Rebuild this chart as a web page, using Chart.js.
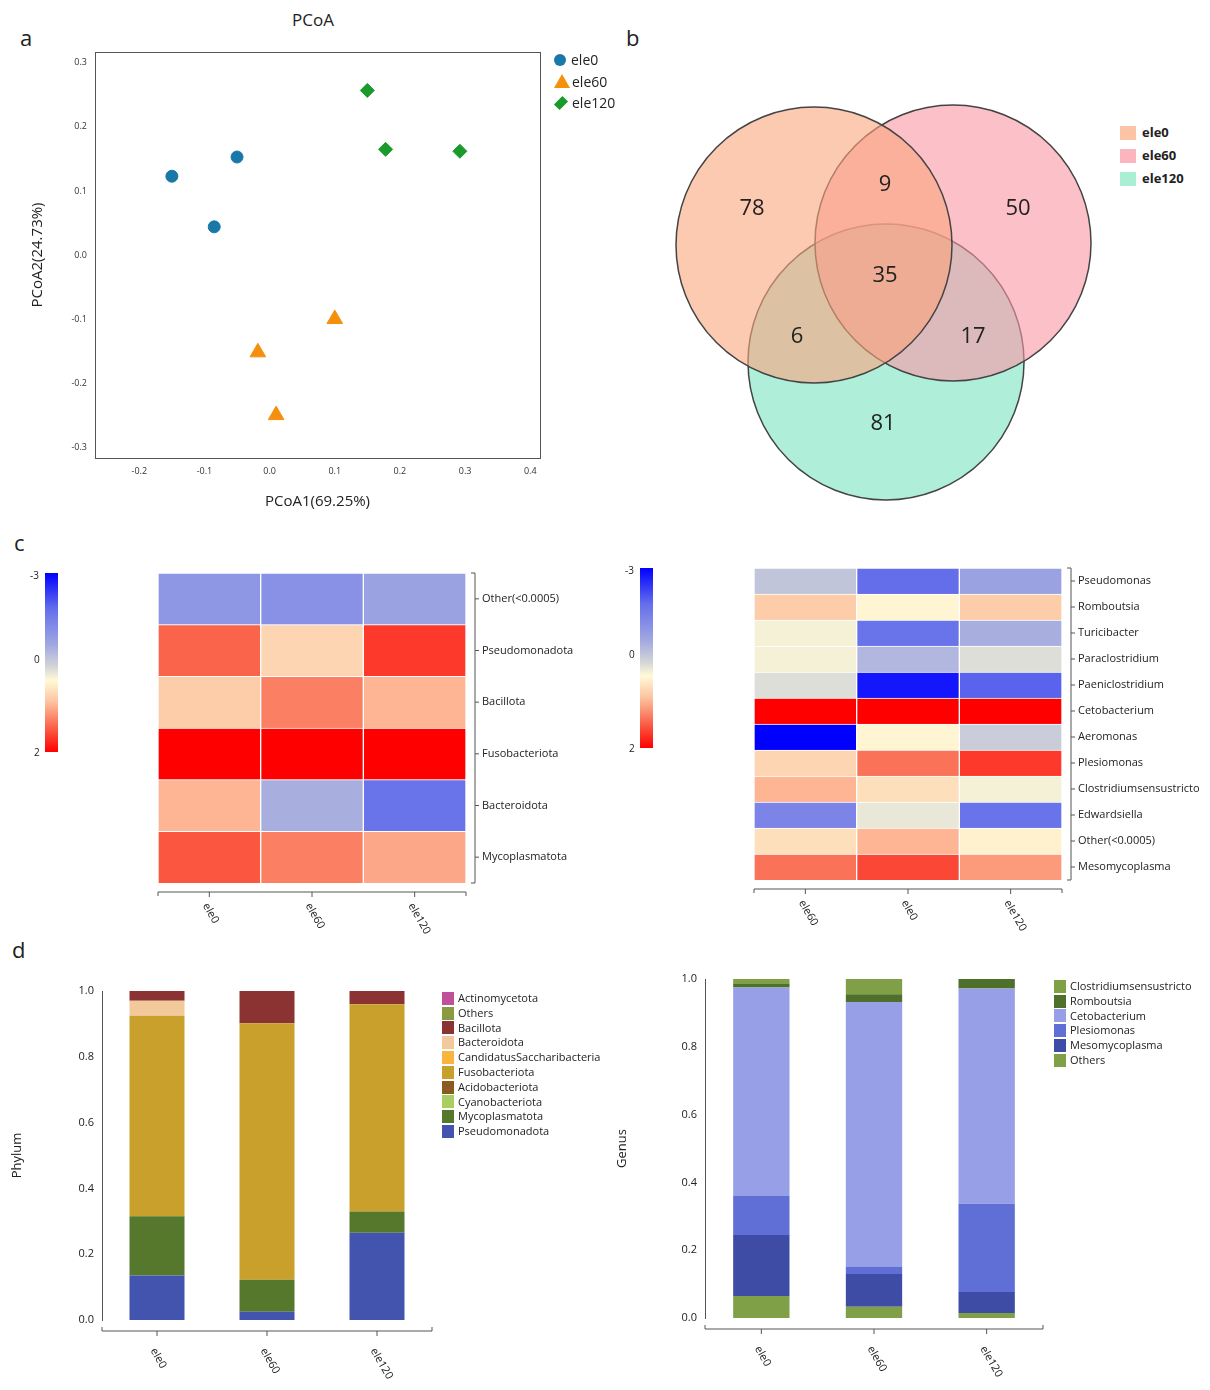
<!DOCTYPE html>
<html><head><meta charset="utf-8">
<script src="https://cdn.jsdelivr.net/npm/chart.js@4.4.1/dist/chart.umd.min.js"></script>
<style>
body{margin:0;width:1210px;height:1390px;position:relative;background:#fff;font-family:"Open Sans","DejaVu Sans",sans-serif;color:#222;overflow:hidden}
.c{position:absolute}
.lab{position:absolute;font-size:22px}
.leg{position:absolute;font-size:11px;line-height:14.8px}
.leg div{display:flex;align-items:center}
.leg span{display:inline-block;width:12px;height:13px;margin-right:4px}
.cb{position:absolute;width:13px}
.cbt{position:absolute;font-size:10px}
</style></head><body>
<div class="lab" style="left:20px;top:22px">a</div>
<div class="lab" style="left:626px;top:22px">b</div>
<div class="lab" style="left:14px;top:527px">c</div>
<div class="lab" style="left:12px;top:934px">d</div>
<div style="position:absolute;left:292px;top:8px;font-size:17px">PCoA</div>
<div class="c" style="left:0;top:0;width:620px;height:520px"><canvas id="pcoa"></canvas></div>
<div class="leg" style="left:554px;top:49px;font-size:14px;line-height:21.5px" id="pleg"></div>
<div class="c" style="left:640px;top:90px;width:480px;height:430px"><canvas id="venn"></canvas></div>
<div class="leg" style="left:1120px;top:121px;font-size:13px;line-height:23px;font-weight:bold" id="vleg"></div>
<div class="c" style="left:0;top:560px;width:610px;height:380px"><canvas id="h1"></canvas></div>
<div class="c" style="left:600px;top:555px;width:610px;height:385px"><canvas id="h2"></canvas></div>
<div class="cb" style="left:45px;top:573px;height:179px" id="cb1"></div>
<div class="cbt" style="left:30px;top:568px">-3</div><div class="cbt" style="left:34px;top:652px">0</div><div class="cbt" style="left:34px;top:745px">2</div>
<div class="cb" style="left:640px;top:568px;height:180px" id="cb2"></div>
<div class="cbt" style="left:625px;top:563px">-3</div><div class="cbt" style="left:629px;top:647px">0</div><div class="cbt" style="left:629px;top:741px">2</div>
<div class="c" style="left:0;top:960px;width:610px;height:430px"><canvas id="b1"></canvas></div>
<div class="c" style="left:610px;top:960px;width:600px;height:430px"><canvas id="b2"></canvas></div>
<div class="leg" style="left:442px;top:991px" id="l1"></div>
<div class="leg" style="left:1054px;top:979px" id="l2"></div>
<script>
// ---------- DATA ----------
const groups = ["ele0","ele60","ele120"];
const pcoaEle0 = [[-0.15,0.123],[-0.05,0.153],[-0.085,0.044]];
const pcoaEle60 = [[0.1,-0.1],[-0.018,-0.152],[0.01,-0.25]];
const pcoaEle120 = [[0.15,0.257],[0.178,0.165],[0.292,0.162]];
const vennSets = ["ele0","ele60","ele120"];
const vennCounts = [78, 9, 50, 35, 6, 17, 81];
const phylumRows = ["Other(<0.0005)","Pseudomonadota","Bacillota","Fusobacteriota","Bacteroidota","Mycoplasmatota"];
const phylumHeatCols = ["ele0","ele60","ele120"];
const phylumHeat = [[-1.3,-1.4,-1.1],[1.3,0.4,1.6],[0.5,1.1,0.7],[2,2,2],[0.7,-0.9,-1.9],[1.4,1.1,0.8]];
const genusRows = ["Pseudomonas","Romboutsia","Turicibacter","Paraclostridium","Paeniclostridium","Cetobacterium","Aeromonas","Plesiomonas","Clostridiumsensustricto","Edwardsiella","Other(<0.0005)","Mesomycoplasma"];
const genusHeatCols = ["ele60","ele0","ele120"];
const genusHeat = [[-0.6,-2.0,-1.1],[0.5,0.05,0.5],[-0.1,-1.9,-0.9],[-0.1,-0.8,-0.3],[-0.3,-2.8,-2.1],[2,2,2],[-3,0.05,-0.5],[0.4,1.2,1.6],[0.7,0.3,-0.1],[-1.6,-0.2,-1.9],[0.3,0.7,0.1],[1.2,1.5,0.9]];
const phylumNames = ["Pseudomonadota","Mycoplasmatota","Cyanobacteriota","Acidobacteriota","Fusobacteriota","CandidatusSaccharibacteria","Bacteroidota","Bacillota","Others","Actinomycetota"];
const phylumVals = [[0.135,0.025,0.265],[0.18,0.097,0.065],[0,0,0],[0,0,0],[0.61,0.78,0.63],[0,0,0],[0.045,0,0],[0.03,0.098,0.04],[0,0,0],[0,0,0]];
const genusNames = ["Others","Mesomycoplasma","Plesiomonas","Cetobacterium","Romboutsia","Clostridiumsensustricto"];
const genusVals = [[0.065,0.033,0.015],[0.18,0.097,0.062],[0.115,0.022,0.26],[0.615,0.78,0.635],[0.01,0.023,0.028],[0.015,0.045,0]];
const barTicks = [0,0.2,0.4,0.6,0.8,1.0];
// ---------- STYLE ----------
const phylumColors = {Actinomycetota:"#c0509a",Others:"#8a9a40",Bacillota:"#8b3333",Bacteroidota:"#f2c99a",CandidatusSaccharibacteria:"#f7b540",Fusobacteriota:"#c9a02c",Acidobacteriota:"#8a5a20",Cyanobacteriota:"#a8cf60",Mycoplasmatota:"#56782c",Pseudomonadota:"#4354ae"};
const genusColors = {Clostridiumsensustricto:"#7fa046",Romboutsia:"#4f702a",Cetobacterium:"#97a0e6",Plesiomonas:"#5f6fd6",Mesomycoplasma:"#3f4ca6",Others:"#7fa046"};
const stops=[[-3,[0,0,255]],[-2,[100,110,235]],[-1,[160,168,225]],[-0.4,[210,212,215]],[0,[255,250,215]],[0.6,[253,195,160]],[1.3,[250,100,75]],[2,[255,0,0]]];
function cmap(v){for(let i=1;i<stops.length;i++){if(v<=stops[i][0]){const a=stops[i-1],b=stops[i];const t=(v-a[0])/(b[0]-a[0]);const c=a[1].map((x,k)=>Math.round(x+(b[1][k]-x)*t));return `rgb(${c})`;}}return "rgb(255,0,0)";}
const grad="linear-gradient(to bottom,"+stops.map(s=>`rgb(${s[1]}) ${((s[0]+3)/5*100).toFixed(1)}%`).join(",")+")";
document.getElementById('cb1').style.background=grad;document.getElementById('cb2').style.background=grad;
Chart.defaults.font.family='"Open Sans","DejaVu Sans",sans-serif';
Chart.defaults.animation=false;
const noLeg={legend:{display:false},tooltip:{enabled:false}};

// ---------- PCoA ----------
const toPts=a=>a.map(p=>({x:p[0],y:p[1]}));
new Chart(document.getElementById('pcoa'),{type:'scatter',data:{datasets:[
 {label:'ele0',data:toPts(pcoaEle0),pointStyle:'circle',radius:6,backgroundColor:'#1a78a8',borderColor:'#1a78a8'},
 {label:'ele60',data:toPts(pcoaEle60),pointStyle:'triangle',radius:9,backgroundColor:'#f5900f',borderColor:'#f5900f'},
 {label:'ele120',data:toPts(pcoaEle120),pointStyle:'rectRot',radius:7,backgroundColor:'#1a9a2a',borderColor:'#1a9a2a'}]},
 options:{responsive:true,maintainAspectRatio:false,layout:{padding:{top:52,right:80,left:25,bottom:5}},plugins:noLeg,
 scales:{x:{min:-0.268,max:0.415,afterFit:s=>{s.height=57},afterBuildTicks:s=>{s.ticks=[-0.2,-0.1,0,0.1,0.2,0.3,0.4].map(v=>({value:v}))},grid:{display:false,drawTicks:true,tickLength:5},border:{color:'#333'},ticks:{font:{size:9},color:'#333',callback:v=>v.toFixed(1)},title:{display:true,text:'PCoA1(69.25%)',font:{size:15},color:'#222'}},
 y:{min:-0.317,max:0.317,afterFit:s=>{s.width=70},afterBuildTicks:s=>{s.ticks=[-0.3,-0.2,-0.1,0,0.1,0.2,0.3].map(v=>({value:v}))},grid:{display:false,tickLength:5},border:{color:'#333'},ticks:{font:{size:9},color:'#333',callback:v=>v.toFixed(1)},title:{display:true,text:'PCoA2(24.73%)',font:{size:15},color:'#222'}}}},
 plugins:[{id:'frame',afterDraw(c){const a=c.chartArea,x=c.ctx;x.save();x.strokeStyle='#555';x.lineWidth=1;x.strokeRect(a.left+0.5,a.top+0.5,a.width,a.height);x.restore();}}]});
document.getElementById('pleg').innerHTML=
 '<div><span style="width:12px;height:12px;border-radius:50%;background:#1a78a8;margin-right:5px"></span>ele0</div>'+
 '<div><span style="width:0;height:0;border-left:8px solid transparent;border-right:8px solid transparent;border-bottom:14px solid #f5900f;background:none;margin-right:2px"></span>ele60</div>'+
 '<div><span style="width:10px;height:10px;transform:rotate(45deg) scale(0.8,1.2);background:#1a9a2a;margin:0 6px 0 2px"></span>ele120</div>';

// ---------- Venn ----------
const vc=[[174,155],[313,153],[246,272]];
const vcol=['rgba(250,165,125,0.6)','rgba(250,150,165,0.6)','rgba(110,225,185,0.55)'];
const lblPos=[[112,119],[245,95],[378,119],[245,186],[157,247],[333,247],[243,334]];
new Chart(document.getElementById('venn'),{type:'bubble',data:{datasets:vennSets.map((s,i)=>({label:s,data:[{x:vc[i][0],y:vc[i][1],r:138}],backgroundColor:vcol[i],borderColor:'#444',borderWidth:1.5,hoverRadius:0,clip:false}))},
 options:{responsive:true,maintainAspectRatio:false,plugins:noLeg,layout:{padding:0,autoPadding:false},scales:{x:{display:false,min:0,max:480},y:{display:false,min:0,max:430,reverse:true}}},
 plugins:[{id:'vl',afterDraw(c){const x=c.ctx;x.save();x.font='22px "Open Sans",sans-serif';x.fillStyle='#222';x.textAlign='center';x.textBaseline='middle';vennCounts.forEach((n,i)=>x.fillText(n,c.scales.x.getPixelForValue(lblPos[i][0]),c.scales.y.getPixelForValue(lblPos[i][1])));x.restore();}}]});
document.getElementById('vleg').innerHTML=vennSets.map((s,i)=>`<div><span style="width:16px;height:14px;background:${['#fbc4a4','#fbb6bd','#aaeed4'][i]};margin-right:6px"></span>${s}</div>`).join('');

// ---------- Heatmaps ----------
function heat(id,rows,cols,vals,pad){
 const n=rows.length;
 const ds=rows.map((r,i)=>({label:r,data:cols.map(()=>1),backgroundColor:vals[i].map(cmap),borderColor:'#fff',borderWidth:1,barPercentage:1,categoryPercentage:1})).reverse();
 new Chart(document.getElementById(id),{type:'bar',data:{labels:cols,datasets:ds},options:{responsive:true,maintainAspectRatio:false,layout:{padding:pad},plugins:noLeg,
  scales:{x:{display:false,stacked:true},y:{display:false,stacked:true,min:0,max:n}}},
  plugins:[{id:'ax',afterDraw(c){const a=c.chartArea,x=c.ctx,ys=c.scales.y,xs=c.scales.x;x.save();x.strokeStyle='#555';x.fillStyle='#222';x.lineWidth=1;
   const rx=a.right+9;x.beginPath();x.moveTo(rx,a.top);x.lineTo(rx,a.bottom);x.moveTo(rx-4,a.top);x.lineTo(rx,a.top);x.moveTo(rx-4,a.bottom);x.lineTo(rx,a.bottom);
   rows.forEach((r,i)=>{const y=ys.getPixelForValue(n-i-0.5);x.moveTo(rx,y);x.lineTo(rx+4,y);});
   const by=a.bottom+9;x.moveTo(a.left,by);x.lineTo(a.right,by);x.moveTo(a.left,by);x.lineTo(a.left,by+4);x.moveTo(a.right,by);x.lineTo(a.right,by+4);
   cols.forEach((cl,i)=>{const px=xs.getPixelForValue(i);x.moveTo(px,by);x.lineTo(px,by+5);});x.stroke();
   x.font='11px "Open Sans",sans-serif';x.textBaseline='middle';x.textAlign='left';
   rows.forEach((r,i)=>x.fillText(r,rx+7,ys.getPixelForValue(n-i-0.5)));
   cols.forEach((cl,i)=>{const px=xs.getPixelForValue(i);x.save();x.translate(px-4,by+12);x.rotate(Math.PI/3);x.fillText(cl,0,0);x.restore();});
   x.restore();}}]});
}
heat('h1',phylumRows,phylumHeatCols,phylumHeat,{left:158,top:13,right:144,bottom:57});
heat('h2',genusRows,genusHeatCols,genusHeat,{left:154,top:13,right:148,bottom:60});

// ---------- Stacked bars ----------
function bars(id,names,vals,colors,title,pad,yw){
 new Chart(document.getElementById(id),{type:'bar',data:{labels:groups,datasets:names.map((nm,i)=>({label:nm,data:vals[i],backgroundColor:colors[nm],barPercentage:0.5,categoryPercentage:1}))},
  options:{responsive:true,maintainAspectRatio:false,layout:{padding:pad},plugins:noLeg,
  scales:{x:{stacked:true,display:false},y:{stacked:true,min:0,max:1,afterFit:s=>{s.width=yw},afterBuildTicks:s=>{s.ticks=barTicks.map(v=>({value:v}))},grid:{display:false,tickLength:5},border:{color:'#555'},ticks:{font:{size:11},color:'#222',callback:v=>v.toFixed(1)},title:{display:true,text:title,font:{size:13},color:'#222'}}}},
  plugins:[{id:'bx',afterDraw(c){const a=c.chartArea,x=c.ctx,xs=c.scales.x;x.save();x.strokeStyle='#555';x.fillStyle='#222';const by=a.bottom+11;x.beginPath();x.moveTo(a.left,by);x.lineTo(a.right,by);x.moveTo(a.left,by);x.lineTo(a.left,by-4);x.moveTo(a.right,by);x.lineTo(a.right,by-4);
   groups.forEach((g,i)=>{const px=xs.getPixelForValue(i);x.moveTo(px,by);x.lineTo(px,by+5);});x.stroke();
   x.font='11px "Open Sans",sans-serif';x.textBaseline='middle';groups.forEach((g,i)=>{const px=xs.getPixelForValue(i);x.save();x.translate(px-4,by+18);x.rotate(Math.PI/3);x.fillText(g,0,0);x.restore();});x.restore();}}]});
}
bars('b1',phylumNames,phylumVals,phylumColors,'Phylum',{left:5,top:31,right:178,bottom:70},97);
bars('b2',genusNames,genusVals,genusColors,'Genus',{left:0,top:19,right:167,bottom:72},95);
document.getElementById('l1').innerHTML=phylumNames.slice().reverse().map(n=>`<div><span style="background:${phylumColors[n]}"></span>${n}</div>`).join('');
document.getElementById('l2').innerHTML=genusNames.slice().reverse().map(n=>`<div><span style="background:${genusColors[n]}"></span>${n}</div>`).join('');
</script></body></html>
